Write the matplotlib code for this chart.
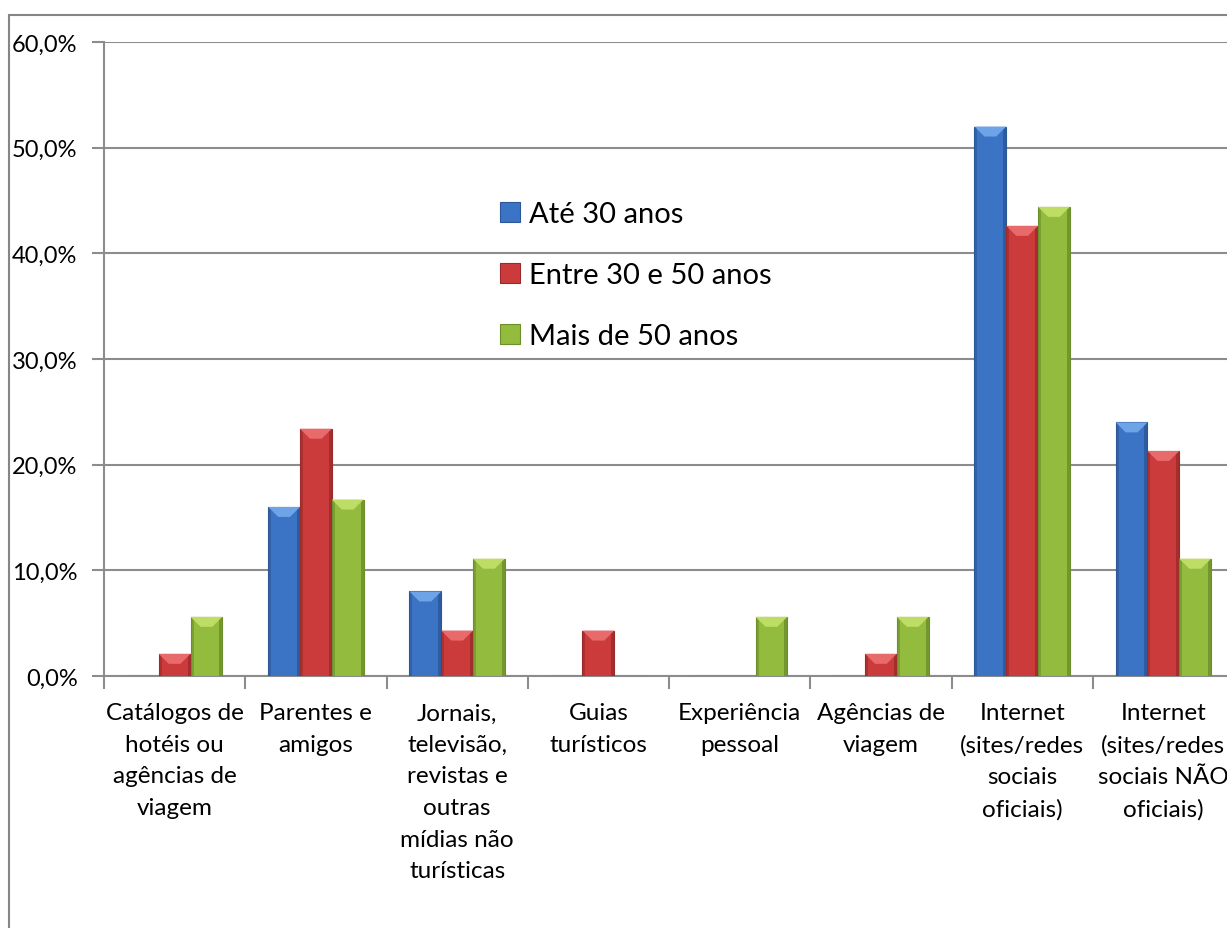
import numpy as np
import matplotlib.pyplot as plt
from matplotlib.patches import Rectangle, Polygon

categories = ['Catálogos de\nhotéis ou\nagências de\nviagem', 'Parentes e\namigos',
              'Jornais,\ntelevisão,\nrevistas e\noutras\nmídias não\nturísticas',
              'Guias\nturísticos', 'Experiência\npessoal', 'Agências de\nviagem',
              'Internet\n(sites/redes\nsociais\noficiais)',
              'Internet\n(sites/redes\nsociais NÃO\noficiais)']
series = ['Até 30 anos', 'Entre 30 e 50 anos', 'Mais de 50 anos']
ate_30 = [0.0, 16.0, 8.0, 0.0, 0.0, 0.0, 52.0, 24.0]
entre_30_50 = [2.1, 23.4, 4.3, 4.3, 0.0, 2.1, 42.6, 21.3]
mais_50 = [5.6, 16.7, 11.1, 0.0, 5.6, 5.6, 44.4, 11.1]
yticks = [0, 10, 20, 30, 40, 50, 60]

colors = ['#3B74C4', '#CC3B3B', '#93BB3E']
dark = ['#2B5697', '#9A2A2A', '#6C8E2B']
light = ['#6FA3E8', '#E86A6A', '#BEDD64']

plt.rcParams['font.family'] = ['Lato', 'DejaVu Sans']

fig = plt.figure(figsize=(12.27, 9.29), dpi=100)
W, H = 1227, 929
ax = fig.add_axes([104 / W, 1 - 677 / H, 1130 / W, (677 - 43) / H])

# chart border
fig.patches.append(Rectangle((9 / W, -0.1), 1.1, 1 - 16 / H + 0.1, transform=fig.transFigure,
                             fill=False, edgecolor='#868686', linewidth=1.5))

x = np.arange(len(categories))
w = 0.225
# data units per pixel
px_x = 8.0 / 1130
px_y = 60.0 / 634
for i, (vals, c, d, l, lab) in enumerate(zip([ate_30, entre_30_50, mais_50], colors, dark, light, series)):
    bars = ax.bar(x + (i - 1) * w, vals, w, color=c, edgecolor=d, linewidth=0.8, label=lab, zorder=3)
    for b in bars:
        h = b.get_height()
        if h <= 0:
            continue
        x0, x1 = b.get_x(), b.get_x() + b.get_width()
        s = 3 * px_x
        ax.add_patch(Rectangle((x0, 0), s, h, color=d, alpha=0.6, lw=0, zorder=4))
        ax.add_patch(Rectangle((x1 - s, 0), s, h, color=d, alpha=0.8, lw=0, zorder=4))
        depth = min(10 * px_y, h)
        inset = 10 * px_x
        ax.add_patch(Polygon([(x0, h), (x1, h), (x1 - inset, h - depth), (x0 + inset, h - depth)],
                             closed=True, color=l, lw=0, zorder=5))

ax.set_xlim(-0.5, 7.5)
ax.set_ylim(0, 60)
ax.set_yticks(yticks)
ax.set_yticklabels([f'{v:.1f}%'.replace('.', ',') for v in yticks], fontsize=17)
ax.yaxis.grid(True, color='#8C8C8C', linewidth=1.5, zorder=0)
ax.tick_params(axis='y', length=9, width=1.5, color='#8C8C8C', pad=10)

ax.set_xticks(x)
ax.set_xticklabels(categories, fontsize=17.5, linespacing=1.62)
ax.tick_params(axis='x', which='major', length=0, pad=19)
ax.set_xticks(np.arange(-0.5, 8.0, 1.0), minor=True)
ax.tick_params(axis='x', which='minor', length=9, width=1.5, color='#8C8C8C')

for s in ['top', 'right']:
    ax.spines[s].set_visible(False)
for s in ['left', 'bottom']:
    ax.spines[s].set_color('#8C8C8C')
    ax.spines[s].set_linewidth(1.5)

ax.legend(loc='upper left', bbox_to_anchor=(0.327, 0.79), frameon=False, fontsize=21,
          handlelength=0.7, handleheight=0.7, handletextpad=0.3, labelspacing=1.2)

fig.savefig('out.png', dpi=100)
